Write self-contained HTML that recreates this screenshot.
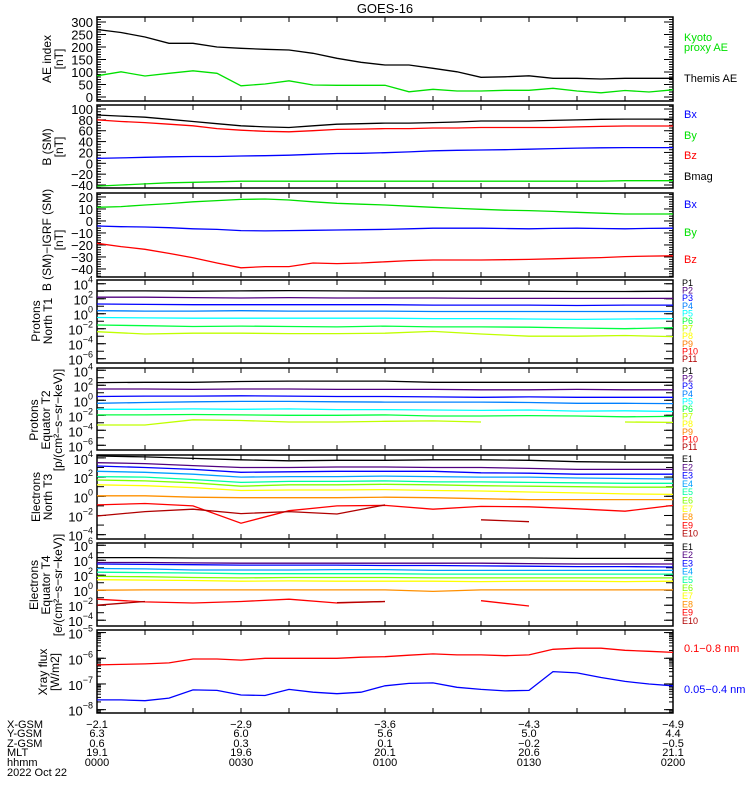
<!DOCTYPE html>
<html><head><meta charset="utf-8"><style>
html,body{margin:0;padding:0;background:#fff;}
svg{display:block;font-family:"Liberation Sans",sans-serif;}
</style></head><body>
<svg id="chart" width="750" height="800" viewBox="0 0 750 800" xmlns="http://www.w3.org/2000/svg">
<text x="385" y="13" font-size="13" text-anchor="middle">GOES-16</text>
</svg>
<script>
// ---- data (time index every 5 min for panels 1-3, every 10 min for panels 4-8 spectra) ----
const timeLabels = ["0000","0030","0100","0130","0200"];
const xgsm = ["-2.1","-2.9","-3.6","-4.3","-4.9"];
const ygsm = ["6.3","6.0","5.6","5.0","4.4"];
const zgsm = ["0.6","0.3","0.1","-0.2","-0.5"];
const mlt = ["19.1","19.6","20.1","20.6","21.1"];
const rowNames = ["X-GSM","Y-GSM","Z-GSM","MLT","hhmm"];

const themisAE = [270,258,240,215,215,200,195,191,188,175,155,139,128,128,115,101,79,81,85,75,75,72,75,75,75];
const kyotoAE = [85,101,84,95,105,95,45,52,65,48,47,47,47,21,31,24,24,27,27,35,24,17,26,20,29];

const bmag = [89,87,85,81,77,73,69,67,66,69,72,73,74,74,75,76,78,78,78,79,80,81,81.5,81.5,81.5];
const bzSM = [80,77,75,72,69,64,61,59,58,60,62.5,63,64,64,65,65,66,66,66,66,67,68,68.7,68.7,68.7];
const bxSM = [9,10,11,12,12.5,12.5,13.5,14,15,16.5,18,18.5,19.5,21,23,24,24.5,25,26,27,28,28.5,29,29,29];
const bySM = [-42,-40,-38,-36,-35,-34,-33,-33,-33,-33,-33,-33,-33,-33,-33,-33,-33,-33,-33,-33,-33,-33,-32,-32,-32];

const dbyIGRF = [11.4,12,13.3,14.5,16,17,18,18.3,17.5,16,14.7,14,13.3,12.3,11.4,10.5,9.7,9,8.6,8,7.2,6.5,5.8,5.8,5.8];
const dbxIGRF = [-4.2,-4.8,-5,-5.6,-6.5,-7,-8,-8.3,-8,-7.8,-7.5,-7.3,-7,-6.5,-6,-6,-6,-6.3,-6.5,-6.2,-6,-6.3,-6.5,-6.2,-6];
const dbzIGRF = [-18.6,-21.4,-23.6,-27,-30.6,-35,-39,-38,-38,-35,-35.5,-35,-34,-33,-32.5,-32.5,-32.5,-32.3,-32,-31.5,-31,-30.5,-29.7,-29.3,-29];

// protons North T1 (log10 flux)
const pN1=[3.05,3.05,3.0,3.05,3.08,3.05,3.0,3.0,3.0,3.0,2.97,2.97,3.0];
const pN2=[2.2,2.2,2.15,2.1,2.15,2.1,2.1,2.1,2.05,2.05,2.05,2.05,2.05];
const pN3=[1.3,1.25,1.2,1.2,1.2,1.2,1.2,1.15,1.15,1.15,1.1,1.15,1.15];
const pN4=[0.4,0.35,0.35,0.4,0.35,0.35,0.35,0.3,0.3,0.3,0.3,0.3,0.3];
const pN5=[-0.5,-0.55,-0.6,-0.6,-0.6,-0.6,-0.6,-0.65,-0.65,-0.7,-0.75,-0.7,-0.65];
const pN6=[-1.5,-1.6,-1.7,-1.65,-1.7,-1.75,-1.65,-1.75,-1.75,-1.8,-1.9,-2.0,-1.85];
const pN7=[-2.4,-2.7,-2.6,-2.6,-2.65,-2.65,-2.6,-2.35,-2.7,-3.0,-3.0,-2.9,-3.05];
// protons Equator T2
const pE1=[2.35,2.4,2.4,2.5,2.55,2.55,2.55,2.4,2.4,2.4,2.4,2.4,2.4];
const pE2=[1.5,1.5,1.45,1.5,1.5,1.45,1.45,1.45,1.4,1.4,1.45,1.4,1.4];
const pE3=[0.5,0.55,0.55,0.6,0.55,0.5,0.5,0.45,0.4,0.45,0.4,0.4,0.4];
const pE4=[-0.4,-0.3,-0.2,-0.15,-0.15,-0.2,-0.25,-0.25,-0.25,-0.3,-0.4,-0.4,-0.45];
const pE5=[-1.2,-1.2,-1.15,-1.2,-1.15,-1.25,-1.25,-1.3,-1.35,-1.3,-1.45,-1.4,-1.5];
const pE6=[-1.95,-1.95,-1.9,-1.95,-2.0,-2.0,-1.95,-2.1,-2.1,-2.05,-2.1,-2.2,-2.15];
const pE7=[-3.3,-3.3,-2.6,-2.7,-2.9,-2.9,-2.8,-2.75,-2.9,null,null,-2.9,-2.95];
// electrons North T3
const eN1=[4.2,4.1,3.95,3.8,3.7,3.75,3.75,3.8,3.8,3.75,3.6,3.55,3.55];
const eN2=[3.5,3.4,3.2,3.0,3.0,3.05,3.05,3.0,3.0,2.9,2.8,2.8,2.8];
const eN3=[3.15,3.0,2.8,2.5,2.55,2.6,2.6,2.6,2.45,2.4,2.3,2.3,2.3];
const eN4=[2.6,2.5,2.3,2.0,2.05,2.05,2.1,2.05,2.0,2.0,1.9,1.85,1.8];
const eN5=[2.05,2.0,1.75,1.45,1.55,1.55,1.6,1.5,1.5,1.45,1.4,1.35,1.35];
const eN6=[1.7,1.6,1.4,1.05,1.2,1.2,1.25,1.2,1.1,1.05,1.0,0.95,0.95];
const eN7=[1.2,1.1,0.9,0.6,0.65,0.65,0.7,0.6,0.55,0.45,0.35,0.25,0.2];
const eN8=[0.05,0.05,-0.1,-0.15,-0.15,-0.15,-0.1,-0.15,-0.25,-0.35,-0.35,-0.35,-0.35];
const eN9=[-0.9,-0.75,-1.0,-2.8,-1.5,-1.0,-0.95,-1.35,-1.05,-1.1,-1.3,-1.55,-0.95];
const eN10=[-2.05,-1.6,-1.35,-1.8,-1.6,-1.85,-0.9,null,-2.45,-2.65,null,null,null];
// electrons Equator T4
const eE1=[4.35,4.35,4.3,4.3,4.3,4.3,4.3,4.3,4.3,4.3,4.25,4.25,4.25];
const eE2=[3.7,3.7,3.65,3.6,3.6,3.6,3.6,3.6,3.6,3.55,3.5,3.5,3.5];
const eE3=[3.5,3.45,3.4,3.35,3.35,3.35,3.3,3.3,3.25,3.2,3.15,3.15,3.1];
const eE4=[2.9,2.85,2.7,2.7,2.7,2.75,2.75,2.65,2.65,2.65,2.65,2.65,2.65];
const eE5=[2.4,2.35,2.3,2.2,2.2,2.2,2.2,2.15,2.15,2.15,2.15,2.15,2.15];
const eE6=[1.85,1.8,1.7,1.65,1.7,1.7,1.7,1.65,1.65,1.65,1.65,1.65,1.65];
const eE7=[1.4,1.35,1.3,1.2,1.25,1.2,1.2,1.2,1.15,1.2,1.2,1.15,1.2];
const eE8=[0.0,0.05,0.05,0.05,0.05,0.05,0.05,-0.15,0.05,0.05,0.05,0.05,0.05];
const eE9=[-1.2,-1.55,-1.7,-1.5,-1.2,-1.7,-1.5,null,-1.4,-2.1,null,null,null];
const eE10=[-2.0,-1.5,null,null,null,-1.65,-1.5,null,null,null,null,null,null];
// x-ray (log10 W/m2)
const xrayLong=[-6.26,-6.24,-6.22,-6.18,-6.03,-6.03,-6.07,-6.0,-6.0,-6.0,-6.0,-5.96,-5.94,-5.88,-5.83,-5.87,-5.87,-5.9,-5.87,-5.65,-5.61,-5.61,-5.69,-5.73,-5.77];
const xrayShort=[-7.62,-7.62,-7.65,-7.55,-7.23,-7.25,-7.43,-7.45,-7.21,-7.32,-7.38,-7.32,-7.07,-6.98,-6.96,-7.13,-7.21,-7.27,-7.25,-6.52,-6.57,-6.75,-6.9,-7.0,-7.07];

// ---- layout ----
const NS="http://www.w3.org/2000/svg";
const svg=document.getElementById('chart');
const X0=97, X1=673, TMIN=0, TMAX=120;
function xScale(min){return X0+(min-TMIN)/(TMAX-TMIN)*(X1-X0);}
function mk(tag,attrs,parent){const e=document.createElementNS(NS,tag);for(const k in attrs)e.setAttribute(k,attrs[k]);(parent||svg).appendChild(e);return e;}

function makePanel(top,bot,vmin,vmax){return {top,bot,vmin,vmax,y:v=>bot-(v-vmin)/(vmax-vmin)*(bot-top)};}
const panels=[
 makePanel(17,101,-16,320),
 makePanel(105,188,-45.5,107.4),
 makePanel(193,277,-46.7,23.3),
 makePanel(280,363,-6.57,4.5),
 makePanel(368,450,-6.63,4.3),
 makePanel(455,539,-4.45,4.3),
 makePanel(543,626,-4.77,6.3),
 makePanel(630,713,-8.13,-4.9)
];
const panelNames=["ae-index-panel","b-sm-panel","b-igrf-panel","protons-north-panel","protons-equator-panel","electrons-north-panel","electrons-equator-panel","xray-panel"];

function drawFrame(p,i){
 const r=mk('rect',{x:X0,y:p.top,width:X1-X0,height:p.bot-p.top,fill:'none',stroke:'#000','stroke-width':1.5});
 
 
 for(let m=10;m<120;m+=10){
  const x=xScale(m);
  mk('line',{x1:x,x2:x,y1:p.top,y2:p.top+5,stroke:'#000'});
  mk('line',{x1:x,x2:x,y1:p.bot,y2:p.bot-5,stroke:'#000'});
 }
}
function yTick(p,v,len){
 const y=p.y(v);
 if(y<p.top-0.1||y>p.bot+0.1)return;
 mk('line',{x1:X0,x2:X0+len,y1:y,y2:y,stroke:'#000'});
 mk('line',{x1:X1,x2:X1-len,y1:y,y2:y,stroke:'#000'});
}
function linLabels(p,start,end,step,minor){
 for(let v=Math.ceil(p.vmin/minor)*minor;v<=p.vmax;v+=minor)yTick(p,v,4);
 for(let v=start;v<=end;v+=step){
  yTick(p,v,9);
  const t=mk('text',{x:93,y:p.y(v)+5,'font-size':13,'text-anchor':'end'});
  t.textContent=String(v).replace('-','\u2212');
  
  
 }
}
function logLabels(p,exps,minorDense){
 for(let e=Math.floor(p.vmin);e<=Math.ceil(p.vmax);e++){
  yTick(p,e,7);
  if(minorDense){for(let k=2;k<10;k++)yTick(p,e+Math.log10(k),4);}
 }
 exps.forEach(e=>{
  yTick(p,e,9);
  const t=mk('text',{x:93,y:p.y(e)+6,'font-size':13,'text-anchor':'end'});
  
  
  const a=document.createElementNS(NS,'tspan');a.textContent='10';t.appendChild(a);
  const b=document.createElementNS(NS,'tspan');b.setAttribute('dy','-7');b.setAttribute('font-size','9');b.textContent=String(e).replace('-','\u2212');t.appendChild(b);
 });
}
function series(p,vals,step,color,name){
 let d='',pen=false;
 vals.forEach((v,i)=>{
  if(v===null||v===undefined){pen=false;return;}
  const x=xScale(i*step),y=p.y(v);
  d+=(pen?'L':'M')+x.toFixed(1)+' '+y.toFixed(1)+' ';pen=true;
 });
 const path=mk('path',{d:d,fill:'none',stroke:color,'stroke-width':1.3});
 
 
}
function label(x,y,txt,color,size,name){
 const t=mk('text',{x:x,y:y,fill:color,'font-size':size||11});
 t.textContent=txt;
 
 
 return t;
}
function yTitle(lines,cy,x0){
 lines.forEach((s,k)=>{
  const x=x0+k*12;
  const t=mk('text',{x:x,y:cy,'font-size':12,'text-anchor':'middle',transform:'rotate(-90 '+x+' '+cy+')'});
  t.textContent=s;
  
  
 });
}

panels.forEach(drawFrame);
linLabels(panels[0],0,300,50,10);
linLabels(panels[1],-40,100,20,5);
linLabels(panels[2],-40,20,10,2);
logLabels(panels[3],[4,2,0,-2,-4,-6],false);
logLabels(panels[4],[4,2,0,-2,-4,-6],false);
logLabels(panels[5],[4,2,0,-2,-4],false);
logLabels(panels[6],[6,4,2,0,-2,-4],false);
logLabels(panels[7],[-5,-6,-7,-8],true);

// series
series(panels[0],themisAE,5,'#000','themis-ae-line');
series(panels[0],kyotoAE,5,'#00e000','kyoto-ae-line');
series(panels[1],bmag,5,'#000','bmag-line');
series(panels[1],bzSM,5,'#ff0000','bz-line');
series(panels[1],bxSM,5,'#0000ff','bx-line');
series(panels[1],bySM,5,'#00e000','by-line');
series(panels[2],dbyIGRF,5,'#00e000','dby-line');
series(panels[2],dbxIGRF,5,'#0000ff','dbx-line');
series(panels[2],dbzIGRF,5,'#ff0000','dbz-line');

const pColors=['#000','#500080','#0000ff','#0080ff','#00ffff','#00ff40','#c0ff00','#ffff00','#ff8000','#ff0000','#b00000'];
const eColors=['#000','#500080','#0000ff','#00a0ff','#00ffa0','#80ff00','#ffff00','#ff9000','#ff0000','#b00000'];
[pN1,pN2,pN3,pN4,pN5,pN6,pN7].forEach((s,k)=>series(panels[3],s,10,pColors[k],'proton-north-p'+(k+1)));
[pE1,pE2,pE3,pE4,pE5,pE6,pE7].forEach((s,k)=>series(panels[4],s,10,pColors[k],'proton-equator-p'+(k+1)));
[eN1,eN2,eN3,eN4,eN5,eN6,eN7,eN8,eN9,eN10].forEach((s,k)=>series(panels[5],s,10,eColors[k],'electron-north-e'+(k+1)));
[eE1,eE2,eE3,eE4,eE5,eE6,eE7,eE8,eE9,eE10].forEach((s,k)=>series(panels[6],s,10,eColors[k],'electron-equator-e'+(k+1)));
series(panels[7],xrayLong,5,'#ff0000','xray-long-line');
series(panels[7],xrayShort,5,'#0000ff','xray-short-line');

// legends
label(684,41,'Kyoto','#00e000',11,'legend-kyoto');
label(684,51,'proxy AE','#00e000',11,'legend-kyoto');
label(684,82,'Themis AE','#000',11,'legend-themis');
label(684,118,'Bx','#0000ff',11,'legend-bx');
label(684,139,'By','#00e000',11,'legend-by');
label(684,159,'Bz','#ff0000',11,'legend-bz');
label(684,180,'Bmag','#000',11,'legend-bmag');
label(684,208,'Bx','#0000ff',11,'legend-bx');
label(684,236,'By','#00e000',11,'legend-by');
label(684,263,'Bz','#ff0000',11,'legend-bz');
for(let k=0;k<11;k++){
 label(682,286+k*7.6,'P'+(k+1),pColors[k],9,'legend-proton');
 label(682,374+k*7.6,'P'+(k+1),pColors[k],9,'legend-proton');
}
for(let k=0;k<10;k++){
 label(682,462+k*8.3,'E'+(k+1),eColors[k],9,'legend-electron');
 label(682,550+k*8.2,'E'+(k+1),eColors[k],9,'legend-electron');
}
label(684,652,'0.1\u22120.8 nm','#ff0000',11,'legend-xray-long');
label(684,693,'0.05\u22120.4 nm','#0000ff',11,'legend-xray-short');

// axis titles
yTitle(['AE index','[nT]'],59,51);
yTitle(['B (SM)','[nT]'],147,51);
yTitle(['B (SM)\u2212IGRF (SM)','[nT]'],240,51);
yTitle(['Protons','North T1'],321,40);
yTitle(['Protons','Equator T2','[p/(cm\u00b2\u2212s\u2212sr\u2212keV)]'],420,38);
yTitle(['Electrons','North T3'],497,40);
yTitle(['Electrons','Equator T4','[e/(cm\u00b2\u2212s\u2212sr\u2212keV)]'],585,38);
yTitle(['Xray flux','[W/m2]'],672,47);

// bottom ephemeris
const rows=[xgsm,ygsm,zgsm,mlt,timeLabels];
const rowY=[728,737,747,756,766];
rows.forEach((arr,r)=>{
 label(7,rowY[r],rowNames[r],'#000',11,'ephemeris-row-label');
 arr.forEach((s,i)=>{
  const t=label(xScale(i*30),rowY[r],s.replace('-','\u2212'),'#000',11,'ephemeris-value');
  t.setAttribute('text-anchor','middle');
 });
});
label(7,776,'2022 Oct 22','#000',11,'date-label');
</script>
</body></html>
